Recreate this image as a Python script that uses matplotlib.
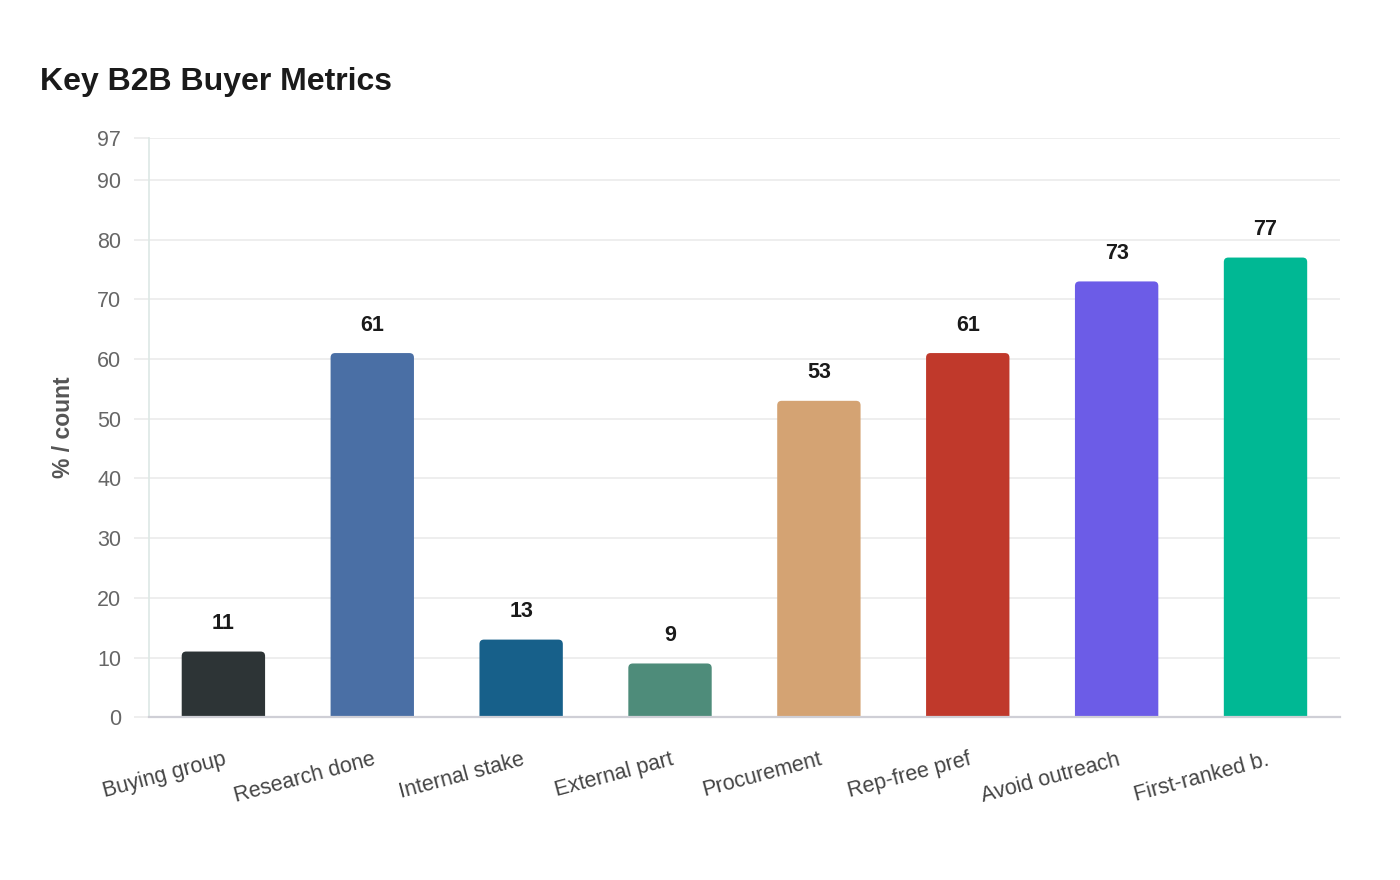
import matplotlib.pyplot as plt
from matplotlib.patches import FancyBboxPatch

plt.rcParams['font.family'] = ['Liberation Sans', 'DejaVu Sans']

categories = ["Buying group", "Research done", "Internal stake", "External part",
              "Procurement", "Rep-free pref", "Avoid outreach", "First-ranked b."]
values = [11, 61, 13, 9, 53, 61, 73, 77]
colors = ["#2d3436", "#4a6fa5", "#17608a", "#4e8c7a",
          "#d4a373", "#c0392b", "#6c5ce7", "#00b894"]
yticks = [0, 10, 20, 30, 40, 50, 60, 70, 80, 90, 97]

fig = plt.figure(figsize=(14, 8.8), dpi=100)
ax = fig.add_axes([0.1064, 0.185, 0.8507, 0.658])

x = range(len(categories))
bars = ax.bar(x, values, width=0.56, color=colors, zorder=3)
ax.set_xlim(-0.5, len(categories) - 0.5)
ax.set_ylim(0, 97)

# swap plain rectangles for ones with slightly rounded tops
fig.canvas.draw()
px_x = (ax.get_xlim()[1] - ax.get_xlim()[0]) / ax.bbox.width
px_y = (ax.get_ylim()[1] - ax.get_ylim()[0]) / ax.bbox.height
r = 4.5 * px_x
for b in bars:
    b.set_visible(False)
    patch = FancyBboxPatch((b.get_x(), b.get_y() - r * px_y / px_x * 2), b.get_width(),
                           b.get_height() + r * px_y / px_x * 2,
                           boxstyle=f"round,pad=0,rounding_size={r}",
                           mutation_aspect=px_y / px_x,
                           facecolor=b.get_facecolor(), edgecolor="none",
                           zorder=3, clip_on=True)
    ax.add_patch(patch)

for i, v in enumerate(values):
    ax.annotate(str(v), (i, v), xytext=(0, 12.5), textcoords="offset points",
                ha="center", va="bottom", fontsize=15.5, fontweight="bold",
                color="#1a1a1a", zorder=4)

ax.set_yticks(yticks)
ax.set_xticks(list(x))
ax.set_xticklabels(categories, rotation=15, ha="right", rotation_mode="anchor",
                   fontsize=15.5, color="#444444")
ax.tick_params(axis="x", length=0, pad=23)
ax.tick_params(axis="y", length=11, color="#ebebeb", width=1.2, pad=9,
               labelsize=15.5, labelcolor="#666666")
ax.grid(axis="y", color="#ebebeb", linewidth=1.2, zorder=0)
ax.set_axisbelow(True)

for s in ["top", "right"]:
    ax.spines[s].set_visible(False)
ax.spines["left"].set_color("#dde8e5")
ax.spines["left"].set_linewidth(1.2)
ax.spines["bottom"].set_color("#cfcfd6")
ax.spines["bottom"].set_linewidth(1.6)
ax.spines["bottom"].set_zorder(5)

ax.set_ylabel("% / count", fontsize=16.5, fontweight="bold", color="#555555", labelpad=16)

fig.text(40 / 1400, 1 - 82 / 880, "Key B2B Buyer Metrics", fontsize=23,
         fontweight="bold", color="#1a1a1a", ha="left", va="center")

fig.savefig("out.png", dpi=100)
